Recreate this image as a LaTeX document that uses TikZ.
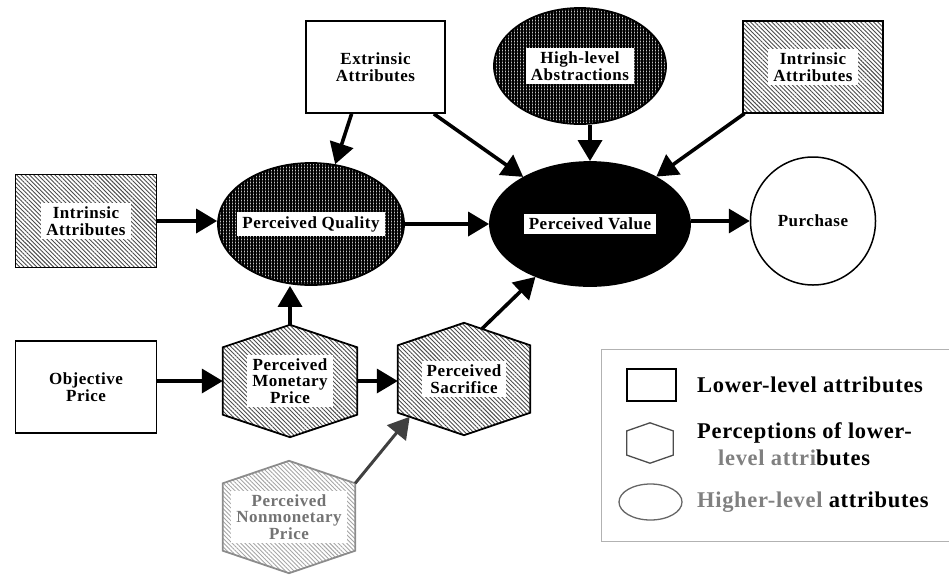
\documentclass[tikz,border=0pt]{standalone}
\usepackage{fontspec}
\setmainfont{Liberation Serif}[LetterSpace=3]
\usetikzlibrary{shapes.geometric,arrows.meta,patterns.meta,calc}
\tikzset{
  txt/.style={font=\bfseries\fontsize{17}{16.5}\selectfont, align=center},
  lgtxt/.style={font=\bfseries\fontsize{22.5}{25}\selectfont, anchor=west, inner sep=0pt},
  lbl/.style={txt, fill=white, inner xsep=5pt, inner ysep=4pt},
  plainbox/.style={draw, line width=1.8pt, rectangle, inner sep=0pt, fill=white},
  hatchbox/.style={draw, line width=1.8pt, rectangle, inner sep=0pt,
    preaction={fill=white}, pattern={Lines[angle=-45,distance=3pt,line width=0.9pt]}, pattern color=black!70},
  crossell/.style={draw, line width=1.8pt, ellipse, inner sep=0pt,
    preaction={fill=gray!45}, pattern={Hatch[angle=0,distance=3pt,line width=1.3pt]}, pattern color=black},
  hexbox/.style={rectangle, inner sep=0pt},
  hexfill/.style={draw, line width=1.8pt, line join=miter,
    preaction={fill=white}, pattern={Lines[angle=-45,distance=3pt,line width=0.9pt]}, pattern color=black!70},
  arr/.style={line width=3.6pt, -{Triangle[length=21pt,width=24pt]}},
}
\begin{document}
\begin{tikzpicture}[x=1pt,y=-1pt]
\useasboundingbox (0,0) rectangle (949,574);
\clip (0,0) rectangle (949,574);

% rectangles
\node[plainbox, txt, minimum width=139pt, minimum height=92pt] (ext) at (375.5,67) {Extrinsic\\Attributes};
\node[hatchbox, minimum width=140pt, minimum height=92pt] (inr) at (813,67) {};
\node[lbl] (inrt) at (inr) {Intrinsic\\Attributes};
\node[hatchbox, minimum width=141pt, minimum height=93pt] (inl) at (86,221) {};
\node[lbl] (inlt) at (inl) {Intrinsic\\Attributes};
\node[plainbox, txt, minimum width=141pt, minimum height=92pt] (obj) at (86,387) {Objective\\Price};

% ellipses
\node[crossell, minimum width=172pt, minimum height=116pt] (hla) at (580,66) {};
\node[lbl] (hlat) at (hla) {High-level\\Abstractions};
\node[crossell, minimum width=186pt, minimum height=122pt] (pq) at (311,224) {};
\node[lbl] (pqt) at (pq) {Perceived Quality};
\node[draw, line width=1.8pt, ellipse, inner sep=0pt, fill=black, minimum width=200pt, minimum height=124pt] (pv) at (590,224) {};
\node[lbl] (pvt) at (pv) {Perceived Value};
\node[draw, line width=1.5pt, ellipse, inner sep=0pt, fill=white, minimum width=125pt, minimum height=128pt, txt] (pur) at (813,221) {Purchase};

% hexagons
\node[hexbox, minimum width=134pt, minimum height=112pt] (pmp) at (290,381) {};
\node[hexbox, minimum width=132pt, minimum height=112pt] (ps) at (464,379) {};
\node[hexbox, minimum width=132pt, minimum height=112pt] (pnp) at (289,517) {};
\foreach \n in {pmp,ps,pnp} {
  \coordinate (\n-ur) at ($(\n.north east)!0.2!(\n.south east)$);
  \coordinate (\n-lr) at ($(\n.north east)!0.8!(\n.south east)$);
  \coordinate (\n-ll) at ($(\n.north west)!0.8!(\n.south west)$);
  \coordinate (\n-ul) at ($(\n.north west)!0.2!(\n.south west)$);
}
\path[hexfill] (pmp.north) -- (pmp-ur) -- (pmp-lr) -- (pmp.south) -- (pmp-ll) -- (pmp-ul) -- cycle;
\node[lbl] (pmpt) at (pmp) {Perceived\\Monetary\\Price};
\path[hexfill] (ps.north) -- (ps-ur) -- (ps-lr) -- (ps.south) -- (ps-ll) -- (ps-ul) -- cycle;
\node[lbl] (pst) at (ps) {Perceived\\Sacrifice};
\path[hexfill, draw=black!45, pattern color=black!35] (pnp.north) -- (pnp-ur) -- (pnp-lr) -- (pnp.south) -- (pnp-ll) -- (pnp-ul) -- cycle;
\node[lbl, text=black!55] (pnpt) at (pnp) {Perceived\\Nonmonetary\\Price};

% connectors
\draw[arr] (inl.east) -- (inl.east -| pq.west);
\draw[arr] ($(ext.south west)!0.33!(ext.south east)$) -- (pq.68);
\draw[arr] ($(ext.south east)+(-12,0)$) -- (pv);
\draw[arr] ($(inr.south west)+(2,0)$) -- (pv);
\draw[arr] (pv.north |- hla.south) -- (pv.north);
\draw[arr] (pq.east) -- (pq.east -| pv.west);
\draw[arr] (pv.east |- pur.west) -- (pur.west);
\draw[arr] (obj.east |- pmp) -- (pmp.west);
\draw[arr] (pmp.north) -- (pmp.north |- pq.south);
\draw[arr] (pmp.east) -- (pmp.east -| ps.west);
\draw[arr] ($(ps.north)!0.27!(ps-ur)$) -- (pv);
\draw[arr, line width=3pt, draw=black!75, fill=black] (pnp-ur) -- ($(ps-ll)!0.18!(ps.south)$);

% legend
\node[draw=gray!60, line width=1pt, rectangle, minimum width=360pt, minimum height=192pt, anchor=north west, inner sep=0pt] (leg) at (601,349) {};
\node[draw, line width=1.6pt, rectangle, minimum width=49pt, minimum height=32pt, inner sep=0pt] (legrect) at (651.5,385) {};
\node[hexbox, minimum width=46pt, minimum height=40pt] (leghex) at (650,443) {};
\draw[line width=1.3pt, draw=black!70] (leghex.north) -- ($(leghex.north east)!0.2!(leghex.south east)$) -- ($(leghex.north east)!0.8!(leghex.south east)$) -- (leghex.south) -- ($(leghex.north west)!0.8!(leghex.south west)$) -- ($(leghex.north west)!0.2!(leghex.south west)$) -- cycle;
\node[draw=black!60, line width=1.3pt, ellipse, inner sep=0pt, minimum width=63pt, minimum height=36pt] (legell) at (650.5,502) {};
\node[lgtxt] (lg1) at (697,385) {Lower-level attributes};
\node[lgtxt] (lg2) at (697,433) {Perceptions of lower-};
\node[lgtxt] (lg3) at (718,458) {\textcolor{black!50}{level attri}butes};
\node[lgtxt] (lg4) at (697,502) {\textcolor{black!50}{Higher-level} attributes};
\end{tikzpicture}
\end{document}
